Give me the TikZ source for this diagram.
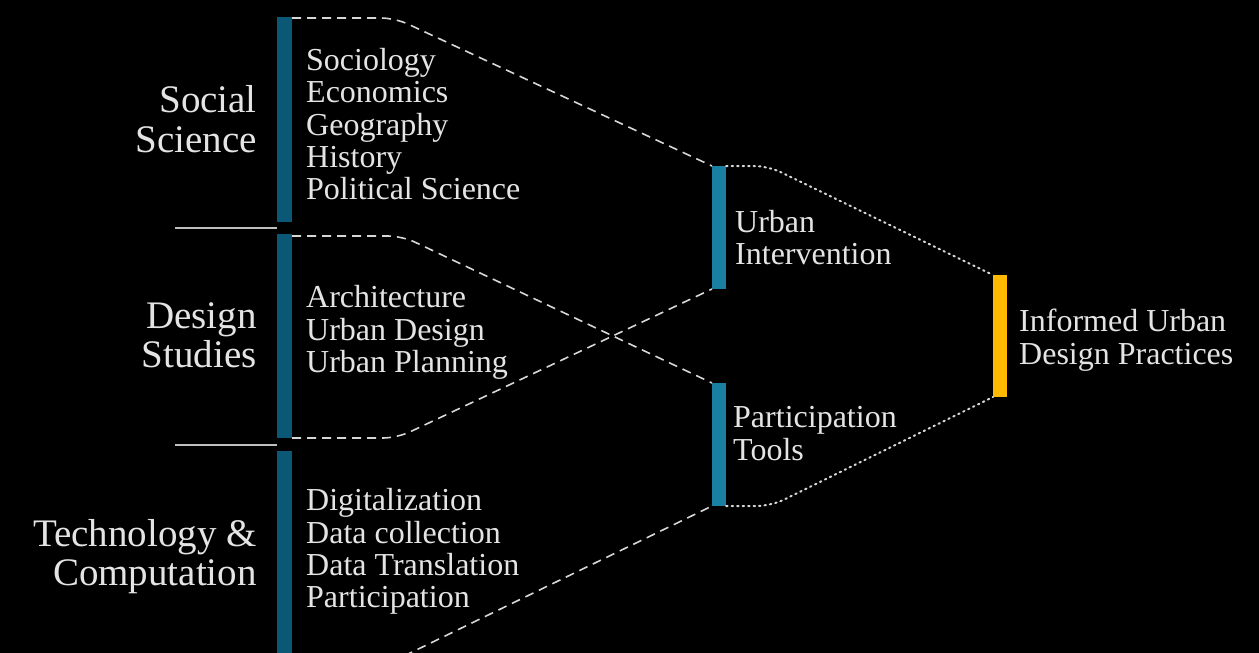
\documentclass[tikz,border=0pt]{standalone}
\usepackage{fontspec}
\setmainfont{Liberation Serif}
\definecolor{darkteal}{RGB}{10,88,118}
\definecolor{midteal}{RGB}{26,128,162}
\definecolor{gold}{RGB}{255,185,0}
\definecolor{txtgray}{RGB}{228,228,228}
\definecolor{linegray}{RGB}{215,215,215}
\definecolor{sepgray}{RGB}{190,190,190}
\begin{document}
\begin{tikzpicture}[x=1pt,y=-1pt,
  bar/.style={draw=none,inner sep=0pt,outer sep=0pt,minimum width=15pt,anchor=north west},
  darkbar/.style={bar,fill=darkteal},
  midbar/.style={bar,fill=midteal},
  goldbar/.style={bar,fill=gold},
  txt/.style={text=txtgray,inner sep=0pt,font=\fontsize{32}{32}\selectfont},
  big/.style={text=txtgray,inner sep=0pt,font=\fontsize{39}{39}\selectfont,anchor=base east},
  item/.style={txt,anchor=base west},
  dashline/.style={draw=linegray,line width=1.6pt,dash pattern=on 9pt off 6pt,rounded corners=14pt},
  dotline/.style={draw=linegray,line width=2pt,dash pattern=on 1.5pt off 4pt,rounded corners=14pt,line cap=round},
  sep/.style={draw=sepgray,line width=1.5pt}]
\fill[black] (0,0) rectangle (1259,653);
\clip (0,0) rectangle (1259,653);
% bars
\node[darkbar,minimum height=205pt] (ss) at (277,17) {};
\node[darkbar,minimum height=204pt] (ds) at (277,234) {};
\node[darkbar,minimum height=220pt] (tc) at (277,451) {};
\node[midbar,minimum width=14pt,minimum height=123pt] (ui) at (712,166) {};
\node[midbar,minimum width=14pt,minimum height=123pt] (pt) at (712,383) {};
\node[goldbar,minimum width=14pt,minimum height=122pt] (ib) at (993,275) {};
% separators
\coordinate (s1) at (175,228);
\coordinate (s2) at (175,445);
\draw[sep] (s1) -- (s1 -| ss.west);
\draw[sep] (s2) -- (s2 -| ss.west);
% category labels
\node[big] (l1a) at (257,112) {Social};
\node[big] (l1b) at (257,152) {Science};
\node[big] (l2a) at (257,328) {Design};
\node[big] (l2b) at (257,367) {Studies};
\node[big] (l3a) at (257,546) {Technology \&};
\node[big] (l3b) at (257,585) {Computation};
% lists
\node[item] (a1) at (306,70) {Sociology};
\node[item] (a2) at (306,102.5) {Economics};
\node[item] (a3) at (306,135) {Geography};
\node[item] (a4) at (306,167) {History};
\node[item] (a5) at (306,199) {Political Science};
\node[item] (b1) at (306,307) {Architecture};
\node[item] (b2) at (306,340) {Urban Design};
\node[item] (b3) at (306,372) {Urban Planning};
\node[item] (c1) at (306,510) {Digitalization};
\node[item] (c2) at (306,543) {Data collection};
\node[item] (c3) at (306,575) {Data Translation};
\node[item] (c4) at (306,607) {Participation};
% middle labels
\node[item] (u1) at (735,232) {Urban};
\node[item] (u2) at (735,264) {Intervention};
\node[item] (p1) at (733,427) {Participation};
\node[item] (p2) at (733,460) {Tools};
\node[item] (i1) at (1019,331) {Informed Urban};
\node[item] (i2) at (1019,364) {Design Practices};
% connectors
\coordinate (tstart) at (404,656);
\draw[dashline] ([yshift=-1pt]ss.north east) -- ++(103,0) -- (ui.north west);
\draw[dashline] ([yshift=-2pt]ds.north east) -- ++(110,0) -- (pt.north west);
\draw[dashline] (ds.south east) -- ++(105,0) -- (ui.south west);
\draw[dashline] (tstart) -- (pt.south west);
\draw[dotline] (ui.north east) -- ++(42,0) -- (ib.north west);
\draw[dotline] (pt.south east) -- ++(45,0) -- (ib.south west);
\end{tikzpicture}
\end{document}
